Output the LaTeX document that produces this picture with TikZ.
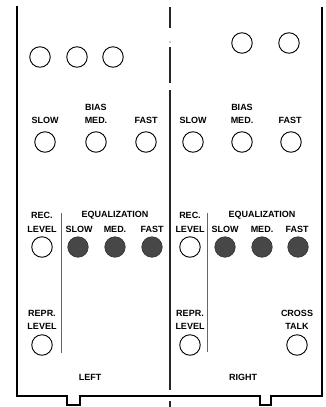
\documentclass[tikz,border=0pt]{standalone}
\usepackage{fontspec}
\setmainfont{Liberation Sans}
\begin{document}
\begin{tikzpicture}[x=1pt,y=-1pt,
  lbl/.style={font=\fontsize{9}{9.5}\selectfont\bfseries, inner sep=0pt, anchor=center},
  knob/.style={circle, draw=black, line width=0.9pt, minimum size=20.5pt, inner sep=0pt},
  eqknob/.style={circle, draw=black!80, fill=black!72, line width=0.6pt, minimum size=20.5pt, inner sep=0pt},
  frame/.style={line width=1.8pt, black},
  divider/.style={line width=1.1pt, black!85},
  sep/.style={line width=0.8pt, black!60}]
\useasboundingbox (0,0) rectangle (325,407);
% frame
\draw[frame, line join=miter] (17,6) -- (17,396) -- (67,396) -- (67,405) -- (80,405) -- (80,396)
  -- (260,396) -- (260,405) -- (271,405) -- (271,396) -- (322,396) -- (322,7);
% centre divider
\draw[divider] (170,7) -- (170,28);
\fill[black!85] (170,42) circle (0.7pt);
\draw[divider] (170,47) -- (170,83);
\draw[divider] (170,90) -- (170,390);
\draw[divider] (170,401) -- (170,407);
% separators
\draw[sep] (61,213) -- (61,353);
\draw[sep] (207,213) -- (207,352);
% top knobs
\node[knob] (lt1) at (40,57) {};
\node[knob] (lt2) at (77,57) {};
\node[knob] (lt3) at (113,57) {};
\node[knob] (rt1) at (242,43) {};
\node[knob] (rt2) at (289,43) {};
% bias left
\node[lbl] (lbias) at (96,107) {BIAS};
\node[lbl] (lbslow) at (45,120) {SLOW};
\node[lbl] (lbmed) at (96,120) {MED.};
\node[lbl] (lbfast) at (146,120) {FAST};
\node[knob] (lb1) at (45,142) {};
\node[knob] (lb2) at (96,142) {};
\node[knob] (lb3) at (146,142) {};
% bias right
\node[lbl] (rbias) at (242,107) {BIAS};
\node[lbl] (rbslow) at (193,120) {SLOW};
\node[lbl] (rbmed) at (242,120) {MED.};
\node[lbl] (rbfast) at (290,120) {FAST};
\node[knob] (rb1) at (193,142) {};
\node[knob] (rb2) at (242,142) {};
\node[knob] (rb3) at (291,142) {};
% rec level / equalization left
\node[lbl] (lrec) at (42,215) {REC.};
\node[lbl] (lrecl) at (42,229) {LEVEL};
\node[knob] (lreck) at (42,247) {};
\node[lbl] (leq) at (115,215) {EQUALIZATION};
\node[lbl] (leslow) at (79,229) {SLOW};
\node[lbl] (lemed) at (115,229) {MED.};
\node[lbl] (lefast) at (152,229) {FAST};
\node[eqknob] (le1) at (78,247) {};
\node[eqknob] (le2) at (115,247) {};
\node[eqknob] (le3) at (152,247) {};
% rec level / equalization right
\node[lbl] (rrec) at (190,215) {REC.};
\node[lbl] (rrecl) at (190,229) {LEVEL};
\node[knob] (rreck) at (190,247) {};
\node[lbl] (req) at (262,215) {EQUALIZATION};
\node[lbl] (reslow) at (225,229) {SLOW};
\node[lbl] (remed) at (262,229) {MED.};
\node[lbl] (refast) at (297,229) {FAST};
\node[eqknob] (re1) at (225,247) {};
\node[eqknob] (re2) at (262,247) {};
\node[eqknob] (re3) at (298,247) {};
% repr level
\node[lbl] (lrepr) at (42,313) {REPR.};
\node[lbl] (lreprl) at (42,326) {LEVEL};
\node[knob] (lreprk) at (42,345) {};
\node[lbl] (rrepr) at (190,313) {REPR.};
\node[lbl] (rreprl) at (190,326) {LEVEL};
\node[knob] (rreprk) at (190,345) {};
\node[lbl] (cross) at (297,313) {CROSS};
\node[lbl] (talk) at (297,326) {TALK};
\node[knob] (crossk) at (297,345) {};
% channel labels
\node[lbl] (left) at (90,377) {LEFT};
\node[lbl] (right) at (243,377) {RIGHT};
\end{tikzpicture}
\end{document}
